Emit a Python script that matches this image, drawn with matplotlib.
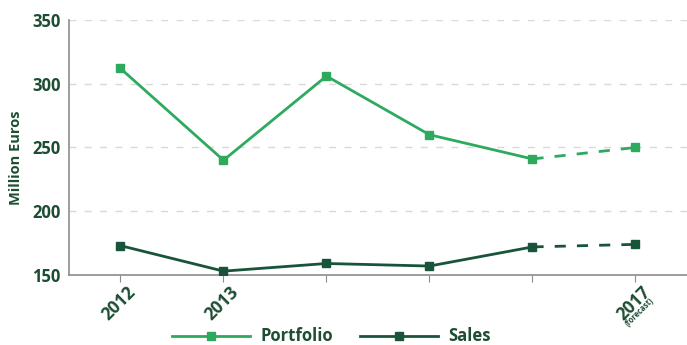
import matplotlib.pyplot as plt
from matplotlib.lines import Line2D

years = ["2012", "2013", "2014", "2015", "2016", "2017"]
tick_labels = ["2012", "2013", "", "", "", "2017"]
portfolio = [312, 240, 306, 260, 241, 250]
sales = [173, 153, 159, 157, 172, 174]

light = "#2eaa5f"
dark = "#18543a"
text_c = "#1d4d33"

plt.rcParams['font.family'] = ['Open Sans', 'DejaVu Sans']

fig = plt.figure(figsize=(6.87, 3.45), dpi=100)
ax = fig.add_axes([0.1004, 0.203, 0.8996, 0.739])

x = list(range(len(years)))
n_actual = 5

for vals, col in ((portfolio, light), (sales, dark)):
    ax.plot(x[:n_actual], vals[:n_actual], color=col, lw=2, marker="s", ms=6, zorder=3)
    ax.plot(x[n_actual - 1:], vals[n_actual - 1:], color=col, lw=2, ls=(0, (4, 4)),
            marker="s", ms=6, markevery=[1], zorder=3)

ax.set_xlim(-0.5, len(years) - 0.5)
ax.set_ylim(150, 350)
ax.set_yticks([150, 200, 250, 300, 350])
ax.yaxis.grid(True, color="#d9d9d9", ls=(0, (5, 6)), lw=1)
ax.set_axisbelow(True)

for s in ("top", "right"):
    ax.spines[s].set_visible(False)
for s in ("left", "bottom"):
    ax.spines[s].set_color("#8c8c8c")
    ax.spines[s].set_linewidth(1.2)

ax.tick_params(axis="y", length=0, labelsize=12, labelcolor=text_c, pad=6)
ax.tick_params(axis="x", length=5, color="#8c8c8c")
for lbl in ax.get_yticklabels():
    lbl.set_fontweight("bold")

ax.set_xticks(x)
ax.set_xticklabels([])
for xi, lab in zip(x, tick_labels):
    if not lab:
        continue
    ax.annotate(lab, xy=(xi, 150), xycoords="data", xytext=(4, -6), textcoords="offset points",
                rotation=45, ha="right", va="top", rotation_mode="anchor",
                fontsize=12.5, fontweight="bold", color=text_c)
ax.annotate("(forecast)", xy=(x[-1], 150), xycoords="data", xytext=(10, -15),
            textcoords="offset points", rotation=45, ha="right", va="top",
            rotation_mode="anchor", fontsize=5.5, fontweight="bold", color=text_c)

ax.set_ylabel("Million Euros", fontsize=10.5, fontweight="bold", color=text_c)
ax.yaxis.set_label_coords(-0.074, 0.46)

handles = [
    Line2D([], [], color=light, lw=2, marker="s", ms=6),
    Line2D([], [], color=dark, lw=2, marker="s", ms=6),
]
leg = fig.legend(handles, ["Portfolio", "Sales"], loc="center", bbox_to_anchor=(0.482, 0.025),
                 ncol=2, frameon=False, handlelength=4.7, handletextpad=0.6,
                 columnspacing=1.6, borderpad=0.0,
                 prop={"weight": "bold", "size": 12})
for t in leg.get_texts():
    t.set_color(text_c)

fig.savefig("out.png", dpi=100)
